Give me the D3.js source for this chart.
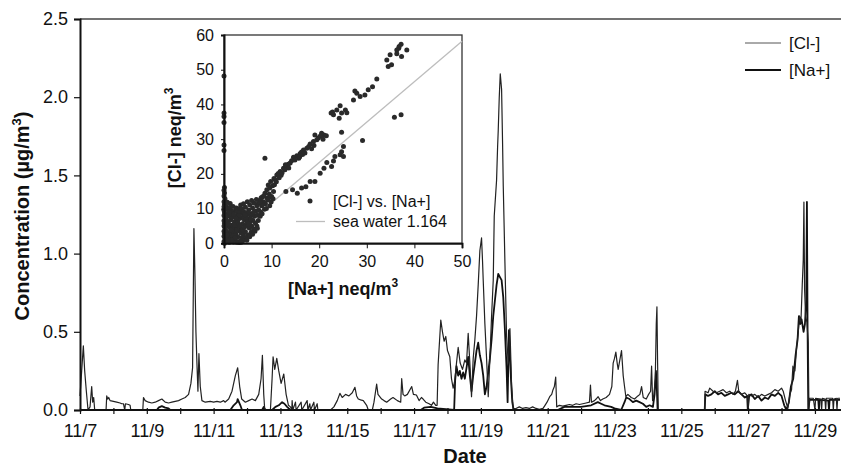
<!DOCTYPE html>
<html>
<head>
<meta charset="utf-8">
<script src="https://cdn.jsdelivr.net/npm/d3@7"></script>
<style>
  html, body { margin: 0; padding: 0; background: #fff; }
  svg { display: block; font-family: "Liberation Sans", Arial, sans-serif; }
</style>
</head>
<body>
<svg id="chart" width="841" height="466"></svg>
<script>
// ---------------- DATA ----------------
// time axis: day of November (e.g. 7.5 = 11/7 12:00)
const dayTicks = [7,8,9,10,11,12,13,14,15,16,17,18,19,20,21,22,23,24,25,26,27,28,29];
const dayLabels = ["11/7","","11/9","","11/11","","11/13","","11/15","","11/17","","11/19","","11/21","","11/23","","11/25","","11/27","","11/29"];
const concTicks = [0, 0.5, 1.0, 1.5, 2.0, 2.5];

// [Cl-] concentration (µg/m3)
const clSeries = [
 [7.00,0.09],[7.05,0.25],[7.10,0.41],[7.14,0.25],[7.19,0.12],[7.24,0.0],[7.30,0.02],[7.35,0.15],[7.38,0.05],[7.41,0.08],[7.44,0.0],
 [7.78,0.0],[7.80,0.09],[7.83,0.07],[7.86,0.08],[7.90,0.06],[8.00,0.055],[8.10,0.05],[8.20,0.045],[8.25,0.04],[8.30,0.04],[8.34,0.0],[8.36,0.04],[8.45,0.035],[8.50,0.03],[8.52,0.0],
 [8.88,0.0],[8.90,0.08],[8.95,0.06],[9.05,0.05],[9.15,0.045],[9.25,0.05],[9.35,0.06],[9.45,0.07],[9.55,0.05],[9.65,0.045],[9.75,0.05],[9.85,0.055],[9.95,0.06],
 [10.05,0.07],[10.15,0.08],[10.25,0.1],[10.32,0.17],[10.37,0.27],[10.41,1.16],[10.44,0.87],[10.47,0.5],[10.50,0.3],[10.53,0.12],[10.56,0.36],[10.60,0.15],[10.65,0.06],
 [10.75,0.05],[10.90,0.055],[11.00,0.05],[11.10,0.055],[11.20,0.05],[11.30,0.06],[11.34,0.05],[11.45,0.07],[11.55,0.12],[11.65,0.22],[11.72,0.27],[11.78,0.15],[11.84,0.07],
 [11.95,0.05],[12.05,0.06],[12.15,0.07],[12.25,0.06],[12.35,0.1],[12.42,0.2],[12.46,0.35],[12.50,0.1],[12.53,0.0],[12.70,0.0],[12.75,0.2],[12.78,0.34],[12.83,0.26],
 [12.89,0.33],[12.95,0.25],[13.02,0.17],[13.10,0.23],[13.17,0.1],[13.24,0.03],[13.30,0.02],[13.34,0.0],[13.35,0.06],[13.37,0.0],[13.45,0.05],[13.47,0.0],[13.62,0.05],[13.64,0.0],
 [13.80,0.06],[13.82,0.0],[13.88,0.04],[13.90,0.0],[14.00,0.05],[14.02,0.0],[14.10,0.04],[14.12,0.0],
 [14.50,0.0],[14.60,0.02],[14.70,0.06],[14.78,0.106],[14.85,0.08],[14.95,0.1],[15.05,0.09],[15.15,0.11],[15.23,0.145],[15.28,0.09],[15.33,0.07],[15.40,0.065],[15.48,0.06],[15.58,0.03],[15.63,0.0],
 [15.75,0.0],[15.80,0.05],[15.88,0.166],[15.92,0.1],[16.03,0.07],[16.10,0.06],[16.18,0.05],[16.30,0.07],[16.37,0.08],[16.50,0.06],[16.60,0.05],[16.63,0.2],[16.67,0.1],[16.72,0.09],
 [16.80,0.1],[16.93,0.15],[16.98,0.1],[17.07,0.096],[17.15,0.06],[17.22,0.08],[17.27,0.07],[17.35,0.05],[17.45,0.04],[17.52,0.03],[17.58,0.05],[17.65,0.03],[17.69,0.03],
 [17.72,0.29],[17.80,0.575],[17.85,0.5],[17.90,0.44],[17.95,0.47],[18.00,0.38],[18.07,0.34],[18.12,0.2],[18.17,0.14],[18.22,0.19],[18.27,0.3],[18.32,0.4],[18.38,0.3],[18.45,0.26],
 [18.52,0.32],[18.57,0.3],[18.62,0.49],[18.67,0.3],[18.72,0.085],[18.77,0.33],[18.82,0.45],[18.87,0.6],[18.92,0.8],[18.97,1.02],[19.02,1.1],[19.05,0.95],[19.07,0.83],[19.12,0.55],
 [19.17,0.33],[19.22,0.085],[19.27,0.33],[19.32,0.6],[19.37,0.83],[19.40,1.24],[19.47,1.47],[19.50,1.68],[19.52,1.79],[19.55,2.0],[19.58,2.15],[19.62,2.05],[19.65,1.7],[19.67,1.43],
 [19.72,0.94],[19.77,0.47],[19.82,0.3],[19.87,0.52],[19.92,0.15],[19.97,0.0],
 [20.05,0.01],[20.15,0.02],[20.25,0.01],[20.35,0.015],[20.45,0.01],[20.55,0.02],[20.65,0.01],[20.75,0.005],[20.86,0.01],[20.92,0.03],[20.98,0.05],[21.06,0.085],[21.12,0.1],[21.16,0.13],
 [21.20,0.15],[21.24,0.21],[21.27,0.02],[21.35,0.03],[21.45,0.025],[21.55,0.03],[21.65,0.035],[21.75,0.03],[21.85,0.04],[21.95,0.035],[22.05,0.04],[22.15,0.045],[22.25,0.05],
 [22.28,0.16],[22.31,0.05],[22.40,0.06],[22.45,0.07],[22.51,0.085],[22.58,0.06],[22.65,0.07],[22.75,0.08],[22.85,0.1],[22.92,0.15],[22.96,0.3],[23.00,0.33],[23.04,0.37],[23.08,0.3],
 [23.11,0.26],[23.16,0.32],[23.21,0.38],[23.26,0.22],[23.30,0.15],[23.34,0.085],[23.40,0.1],[23.50,0.08],[23.60,0.07],[23.70,0.09],[23.76,0.1],[23.81,0.15],[23.86,0.08],[23.95,0.07],
 [24.02,0.1],[24.08,0.12],[24.11,0.28],[24.14,0.06],[24.18,0.1],[24.22,0.2],[24.25,0.55],[24.27,0.66],[24.29,0.3],[24.31,0.0],
 [25.70,0.0],[25.71,0.12],[25.80,0.11],[25.85,0.14],[25.95,0.12],[26.05,0.11],[26.15,0.12],[26.25,0.13],[26.35,0.11],[26.45,0.12],[26.55,0.1],[26.62,0.12],[26.68,0.19],[26.72,0.12],
 [26.80,0.1],[26.90,0.11],[26.98,0.09],[27.00,0.0],[27.02,0.1],[27.10,0.09],[27.20,0.1],[27.30,0.08],[27.40,0.1],[27.50,0.09],[27.60,0.1],[27.70,0.11],[27.80,0.13],[27.90,0.12],
 [28.00,0.14],[28.05,0.12],[28.12,0.06],[28.19,0.01],[28.25,0.1],[28.30,0.13],[28.34,0.28],[28.40,0.25],[28.45,0.4],[28.50,0.5],[28.54,0.6],[28.58,0.56],[28.62,0.8],[28.65,0.96],
 [28.67,1.33],[28.69,0.77],[28.72,0.6],[28.76,0.56],[28.80,0.43],[28.82,0.0],[28.84,0.075],[28.95,0.075],[29.00,0.0],[29.02,0.075],[29.18,0.07],[29.20,0.0],[29.22,0.075],
 [29.30,0.07],[29.32,0.0],[29.34,0.075],[29.53,0.075],[29.55,0.0],[29.57,0.07],[29.64,0.075],[29.66,0.0],[29.68,0.075],[29.75,0.075]
];

// [Na+] concentration (µg/m3)
const naSeries = [
 [7.00,0.0],[9.30,0.0],[9.35,0.015],[9.45,0.025],[9.55,0.015],[9.65,0.01],[9.70,0.0],
 [11.50,0.0],[11.60,0.03],[11.70,0.05],[11.72,0.07],[11.80,0.03],[11.85,0.0],[12.45,0.0],[12.50,0.02],[12.55,0.0],
 [12.75,0.0],[12.85,0.02],[12.95,0.03],[13.05,0.05],[13.12,0.04],[13.20,0.02],[13.30,0.0],
 [17.20,0.0],[17.30,0.015],[17.50,0.02],[17.70,0.01],[18.20,0.0],
 [18.23,0.19],[18.27,0.28],[18.32,0.22],[18.37,0.25],[18.42,0.2],[18.47,0.24],[18.52,0.2],[18.57,0.27],[18.62,0.34],[18.67,0.22],[18.72,0.12],[18.77,0.22],[18.82,0.3],
 [18.87,0.38],[18.92,0.43],[18.97,0.35],[19.02,0.3],[19.07,0.22],[19.12,0.1],[19.17,0.15],[19.22,0.24],[19.27,0.33],[19.32,0.45],[19.37,0.6],[19.42,0.7],[19.47,0.8],
 [19.52,0.87],[19.57,0.85],[19.62,0.83],[19.67,0.72],[19.72,0.51],[19.77,0.26],[19.80,0.05],[19.84,0.51],[19.87,0.35],[19.90,0.2],[19.94,0.05],[19.98,0.0],
 [21.30,0.0],[21.50,0.02],[22.00,0.02],[22.30,0.03],[22.50,0.05],[22.60,0.04],[22.70,0.03],[22.90,0.02],[23.00,0.01],[23.20,0.0],[23.30,0.05],[23.35,0.08],[23.45,0.07],
 [23.55,0.05],[23.65,0.06],[23.75,0.05],[23.85,0.04],[23.95,0.02],[24.05,0.03],[24.15,0.02],[24.20,0.1],[24.24,0.25],[24.27,0.12],[24.29,0.0],
 [25.70,0.0],[25.72,0.1],[25.80,0.09],[25.90,0.1],[26.00,0.12],[26.10,0.1],[26.20,0.11],[26.30,0.09],[26.40,0.1],[26.50,0.11],[26.60,0.1],[26.70,0.12],[26.80,0.1],[26.90,0.08],
 [26.97,0.09],[26.99,0.0],[27.03,0.09],[27.10,0.1],[27.20,0.07],[27.30,0.09],[27.40,0.06],[27.50,0.08],[27.60,0.07],[27.70,0.1],[27.80,0.09],[27.90,0.11],[28.00,0.09],
 [28.08,0.03],[28.15,0.0],[28.22,0.05],[28.28,0.15],[28.35,0.2],[28.42,0.35],[28.48,0.45],[28.52,0.6],[28.56,0.55],[28.60,0.58],[28.66,0.5],[28.70,0.55],[28.74,0.7],
 [28.76,1.33],[28.78,0.5],[28.80,0.0],[28.84,0.065],[29.10,0.065],[29.12,0.0],[29.14,0.065],[29.40,0.06],[29.42,0.0],[29.44,0.065],[29.75,0.065]
];

// inset scatter: [Na+] neq/m3 vs [Cl-] neq/m3
const inNaTicks = [0,10,20,30,40,50];
const inClTicks = [0,10,20,30,40,50,60];
const seaWaterRatio = 1.164;
const scatterPoints = [
 [36.7,56.2],[37.2,57.3],[36.8,56.7],[36.3,55.7],[38.4,55.7],[37.3,53.8],[36.3,54.6],[34.9,54.3],[34.2,52.8],[35.2,51.4],[34.5,50.9],[32.1,47.3],
 [31.2,45.1],[30.3,44.2],[29.6,42.7],[28.6,42.3],[27.9,43.2],[27.5,43.9],[27.2,41.3],[25.5,38.4],[24.7,37.5],[24.4,39.6],[23.7,38.4],[22.5,37.5],
 [23.0,37.0],[24.2,36.0],[25.8,37.6],[22.8,37.8],[21.0,31.2],[20.5,31.7],[19.8,30.3],[19.1,31.2],[18.8,29.3],[18.1,28.6],[17.4,27.4],[16.7,26.9],
 [16.0,25.9],[15.3,25.2],[14.6,24.8],[13.9,23.1],[13.2,22.1],[12.5,21.6],[11.8,20.7],[11.1,19.7],[10.5,18.7],[9.8,17.8],[9.3,16.8],[9.0,15.4],
 [8.6,14.4],[8.1,13.4],[7.6,12.5],[20.2,30.8],[19.5,29.8],[17.8,27.9],[16.3,26.3],[15.7,24.5],[14.2,23.8],[13.5,22.8],[12.8,21.2],[12.0,19.6],
 [11.4,20.1],[10.8,18.2],[10.2,16.6],[9.6,15.9],[8.6,24.5],[9.5,14.2],[10.0,13.5],[8.3,12.0],[7.2,11.5],[7.9,10.8],
 [10.6,16.9],[11.0,17.7],[11.6,18.9],[12.2,20.3],[12.9,22.6],[13.6,21.7],[14.9,24.0],[15.9,24.9],[16.5,25.6],[17.0,26.0],[18.4,27.2],[18.9,28.2],
 [20.8,30.0],[21.5,31.0],[9.1,13.0],[9.7,13.3],[10.4,14.9],[8.7,11.4],
 [35.8,36.3],[37.2,37.0],[29.1,29.6],[24.7,32.0],[25.1,27.9],[24.7,26.4],[24.4,25.5],[25.1,25.0],[23.3,25.0],[23.0,23.7],[21.6,23.3],[22.6,22.1],
 [21.0,21.6],[20.2,20.2],[19.1,17.8],[18.1,17.8],[17.2,16.3],[16.3,15.9],[15.4,14.4],[14.4,15.4],[13.0,14.9],
 [0,48.2],[0,37.5],[0,36.5],[0,34.8],[0,28.3],[0,26.7],[0.1,16.1],[0,15.3],[0.1,14.5],[0,13.6],[0.2,12.8],[0,12.0],[0.1,11.2],[0,10.5],[0.3,10.2],
 [0,9.5],[0.1,8.8],[0,8.0],[0.2,7.3],[0,6.5],[0.1,5.8],[0,5.0],[0.2,4.2],[0,3.5],[0.1,2.8],[0,2.0],[0.2,1.3],[0,0.5],[0.1,0],
 [0.5,10.5],[0.8,9.8],[1.2,10.3],[0.6,8.5],[1.0,7.9],[1.5,8.4],[0.4,7.0],[0.9,6.2],[1.4,6.8],[1.8,7.5],[2.2,6.1],[0.7,5.1],[1.2,4.6],[1.7,5.3],
 [2.1,4.2],[2.6,5.0],[3.0,5.8],[0.5,3.5],[1.0,3.0],[1.5,2.5],[2.0,3.2],[2.5,2.6],[3.1,3.6],[3.5,4.5],[0.8,1.8],[1.3,1.2],[1.9,1.6],[2.4,1.0],
 [2.9,1.9],[3.3,0.6],[3.7,1.5],[4.1,2.4],[4.5,3.3],[3.9,5.6],[4.3,6.7],[3.4,7.2],[2.8,8.1],[3.6,8.7],[4.2,9.0],[4.8,8.3],[5.2,9.6],[5.6,8.0],
 [5.0,7.1],[5.5,6.2],[4.7,5.2],[5.3,4.4],[5.8,5.0],[6.1,6.6],[6.4,7.8],[6.7,9.3],[6.0,10.2],[6.9,10.8],[7.3,9.6],[7.0,8.1],[6.6,5.8],[6.2,4.1],
 [5.7,3.2],[5.1,2.4],[4.6,1.5],[4.0,0.8],[2.7,0.3],[2.0,0.4],[3.2,0.2],[1.1,0.3],[0.4,0.6],[7.7,9.0],[8.1,11.2],[8.5,9.8],[7.5,11.9],[9.2,12.5],
 [9.9,11.9],[10.3,12.8],[9.6,10.8],[8.9,10.0],[6.3,11.6],[5.4,11.1],[4.5,10.4],[3.8,9.8],[3.0,9.1],[2.3,9.2],[1.6,9.4],[0.3,11.3],[1.3,11.5],
 [4.9,12.0],[3.5,11.0],
 [0.3,4.5],[0.6,2.4],[1.0,5.5],[1.4,3.8],[1.8,2.0],[2.3,2.2],[2.2,5.3],[2.7,3.8],[2.9,6.7],[3.3,5.0],[3.6,2.9],[3.9,3.9],[4.3,4.6],[4.0,7.6],
 [4.6,7.4],[4.9,6.0],[5.2,5.5],[5.6,7.0],[5.9,8.6],[6.3,9.0],[5.0,8.9],[4.4,8.2],[3.2,8.0],[2.5,7.2],[2.0,8.4],[1.1,9.0],[0.7,11.8],[1.9,10.6],
 [2.6,10.2],[3.3,10.0],[4.1,11.4],[5.8,12.3],[6.8,12.6],[7.8,13.1],[8.4,13.6],[6.5,3.5],[6.9,5.0],[7.2,6.6],[7.6,7.8],[8.0,8.5],[5.4,1.9],[4.8,0.9],
 [3.6,0.3],[2.3,1.5],[1.6,0.9],[0.9,0.8],[6.0,2.6],[7.0,4.3]
];

const seriesNames = ["[Cl-]", "[Na+]"];
const insetLegendNames = ["[Cl-] vs. [Na+]", "sea water 1.164"];

// ---------------- DRAW ----------------
const svg = d3.select("#chart");

const x = d3.scaleLinear().domain([7, 29.75]).range([80, 840]);
const y = d3.scaleLinear().domain([0, 2.5]).range([410, 19]);

// top frame line
svg.append("line").attr("x1", 80).attr("x2", 841).attr("y1", y(2.5)).attr("y2", y(2.5))
  .attr("stroke", "#444").attr("stroke-width", 1.5);

const line = d3.line().x(d => x(d[0])).y(d => y(d[1]));

svg.append("path").datum(naSeries).attr("d", line)
  .attr("fill", "none").attr("stroke", "#111").attr("stroke-width", 1.8).attr("stroke-linejoin", "round");
svg.append("path").datum(clSeries).attr("d", line)
  .attr("fill", "none").attr("stroke", "#222").attr("stroke-width", 1.2).attr("stroke-linejoin", "round");

// axes
const xAxis = d3.axisBottom(x).tickValues(dayTicks).tickFormat((d, i) => dayLabels[i]).tickSize(4).tickPadding(10);
const gx = svg.append("g").attr("transform", `translate(0,${y(0)})`).call(xAxis);
gx.select(".domain").attr("d", `M80,0H841`).attr("stroke", "#111").attr("stroke-width", 2);
gx.selectAll(".tick line").attr("y1", -2).attr("stroke", "#111").attr("stroke-width", 1.2);
gx.selectAll(".tick text").attr("font-size", 18).attr("fill", "#111").attr("font-family", "Liberation Sans, Arial, sans-serif");

const yAxis = d3.axisLeft(y).tickValues(concTicks).tickFormat(d3.format(".1f")).tickSize(6).tickPadding(6);
const gy = svg.append("g").attr("transform", `translate(80,0)`).call(yAxis);
gy.select(".domain").attr("stroke", "#111").attr("stroke-width", 2);
gy.selectAll(".tick line").attr("stroke", "#111").attr("stroke-width", 1.2);
gy.selectAll(".tick text").attr("font-size", 18).attr("fill", "#111").attr("font-family", "Liberation Sans, Arial, sans-serif");

// axis titles
svg.append("text").attr("x", 465).attr("y", 463).attr("text-anchor", "middle")
  .attr("font-size", 20).attr("font-weight", "bold").attr("fill", "#111").text("Date");
const yt = svg.append("text").attr("transform", "translate(29,216) rotate(-90)").attr("text-anchor", "middle")
  .attr("font-size", 20).attr("font-weight", "bold").attr("fill", "#111");
yt.append("tspan").text("Concentration (µg/m");
yt.append("tspan").attr("dy", -8).attr("font-size", 13).text("3");
yt.append("tspan").attr("dy", 8).text(")");

// main legend
const legY = [43, 70];
const legStyles = [{c: "#555", w: 1}, {c: "#111", w: 1.8}];
seriesNames.forEach((n, i) => {
  svg.append("line").attr("x1", 745).attr("x2", 781).attr("y1", legY[i]).attr("y2", legY[i])
    .attr("stroke", legStyles[i].c).attr("stroke-width", legStyles[i].w);
  svg.append("text").attr("x", 789).attr("y", legY[i]).attr("dy", "0.35em")
    .attr("font-size", 17).attr("fill", "#111").text(n);
});

// ---------------- INSET ----------------
const ix = d3.scaleLinear().domain([0, 50]).range([224, 462]);
const iy = d3.scaleLinear().domain([0, 60]).range([243.3, 35]);

svg.append("rect").attr("x", ix(0)).attr("y", iy(60)).attr("width", ix(50) - ix(0)).attr("height", iy(0) - iy(60))
  .attr("fill", "#fff").attr("stroke", "#333").attr("stroke-width", 1.3);

// sea water line
svg.append("line").attr("x1", ix(0)).attr("y1", iy(0)).attr("x2", ix(50)).attr("y2", iy(50 * seaWaterRatio))
  .attr("stroke", "#bdbdbd").attr("stroke-width", 1.3);

svg.append("g").selectAll("circle").data(scatterPoints).join("circle")
  .attr("cx", d => ix(d[0])).attr("cy", d => iy(d[1])).attr("r", 2.5).attr("fill", "#2a2a2a");

const ixAxis = d3.axisBottom(ix).tickValues(inNaTicks).tickSize(5).tickPadding(7);
const gix = svg.append("g").attr("transform", `translate(0,${iy(0)})`).call(ixAxis);
gix.select(".domain").attr("stroke", "#111").attr("stroke-width", 2);
gix.selectAll(".tick line").attr("stroke", "#111");
gix.selectAll(".tick text").attr("font-size", 16).attr("fill", "#111").attr("font-family", "Liberation Sans, Arial, sans-serif");

const iyAxis = d3.axisLeft(iy).tickValues(inClTicks).tickSize(3).tickPadding(7);
const giy = svg.append("g").attr("transform", `translate(${ix(0)},0)`).call(iyAxis);
giy.select(".domain").attr("stroke", "#111").attr("stroke-width", 2);
giy.selectAll(".tick line").attr("stroke", "#111");
giy.selectAll(".tick text").attr("font-size", 16).attr("fill", "#111").attr("font-family", "Liberation Sans, Arial, sans-serif");

// inset titles
const ixt = svg.append("text").attr("x", 343).attr("y", 295).attr("text-anchor", "middle")
  .attr("font-size", 18).attr("font-weight", "bold").attr("fill", "#111");
ixt.append("tspan").text("[Na+] neq/m");
ixt.append("tspan").attr("dy", -8).attr("font-size", 12).text("3");
const iyt = svg.append("text").attr("transform", "translate(181,138) rotate(-90)").attr("text-anchor", "middle")
  .attr("font-size", 18).attr("font-weight", "bold").attr("fill", "#111");
iyt.append("tspan").text("[Cl-] neq/m");
iyt.append("tspan").attr("dy", -8).attr("font-size", 12).text("3");

// inset legend
svg.append("circle").attr("cx", 310).attr("cy", 201).attr("r", 2.5).attr("fill", "#2a2a2a");
svg.append("text").attr("x", 333).attr("y", 201).attr("dy", "0.35em").attr("font-size", 16).attr("fill", "#111").text(insetLegendNames[0]);
svg.append("line").attr("x1", 296).attr("x2", 325).attr("y1", 221.5).attr("y2", 221.5).attr("stroke", "#bdbdbd").attr("stroke-width", 1.3);
svg.append("text").attr("x", 333).attr("y", 221.5).attr("dy", "0.35em").attr("font-size", 16).attr("fill", "#111").text(insetLegendNames[1]);
</script>
</body>
</html>
